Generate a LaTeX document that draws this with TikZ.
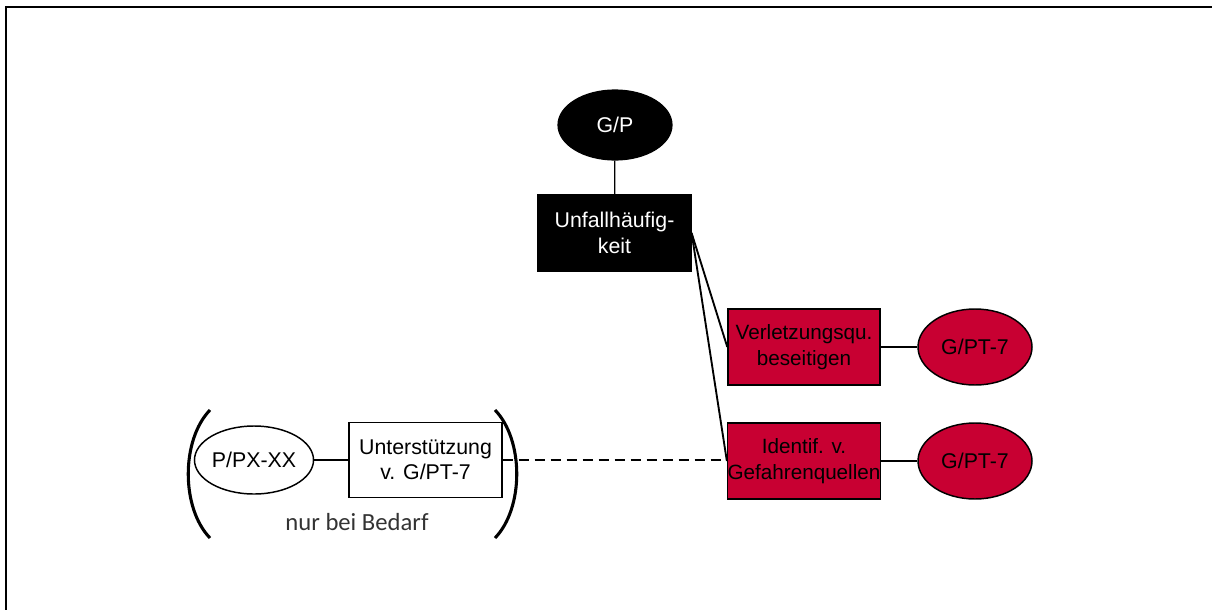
\documentclass[tikz,border=0pt]{standalone}
\usepackage{fontspec}
\setmainfont{Liberation Sans}
\newfontfamily\notefont{Carlito}
\usetikzlibrary{shapes.geometric}
\definecolor{zred}{RGB}{200,0,50}
\begin{document}
\begin{tikzpicture}[x=0.75pt,y=-0.75pt,
  every node/.style={font=\fontsize{16}{19}\selectfont, align=center, inner sep=0pt},
  blackell/.style={ellipse, draw=black, fill=black, text=white, line width=0.9pt,
    minimum width=85.5pt, minimum height=52.5pt},
  blackbox/.style={rectangle, draw=black, fill=black, text=white, line width=0.9pt,
    minimum width=114.75pt, minimum height=57pt},
  redbox/.style={rectangle, draw=black, fill=zred, text=black, line width=1.1pt,
    minimum width=114pt, minimum height=57pt, font=\fontsize{15.5}{19}\selectfont},
  redell/.style={ellipse, draw=black, fill=zred, text=black, line width=1.1pt,
    minimum width=85.5pt, minimum height=57pt},
  whitebox/.style={rectangle, draw=black, fill=white, line width=1.1pt,
    minimum width=114.75pt, minimum height=56.25pt},
  whiteell/.style={ellipse, draw=black, fill=white, line width=1.1pt,
    minimum width=87pt, minimum height=51pt},
  link/.style={draw=black, line width=0.9pt},
  slant/.style={draw=black, line width=1.4pt},
  optional/.style={draw=black, line width=1.6pt, dash pattern=on 7.5pt off 4.5pt},
  paren/.style={draw=black, line width=2.3pt}]

\useasboundingbox (0,0) rectangle (1212,610);

% frame (top and left edges)
\draw[line width=1.6pt] (1212,7) -- (6,7) -- (6,610);

% nodes
\node[blackell] (gp) at (615,125) {G/P};
\node[blackbox] (unf) at (614.5,233) {Unfallhäufig-\\keit};
\node[redbox] (ver) at (804,347) {Verletzungsqu.\\beseitigen};
\node[redbox] (ide) at (804,461) {Identif. v.\\Gefahrenquellen};
\node[redell] (pt1) at (975,347) {G/PT-7};
\node[redell] (pt2) at (975,461) {G/PT-7};
\node[whiteell] (px) at (254,460) {P/PX-XX};
\node[whitebox] (sup) at (425.5,460) {Unterstützung\\v. G/PT-7};
\node[font=\notefont\fontsize{18.5}{22}\selectfont, text=black!80] (note) at (357,522) {nur bei Bedarf};

% connectors
\draw[link] (gp) -- (unf);
\draw[slant] (unf.east) -- (ver.west);
\draw[slant] (unf.east) -- (ide.west);
\draw[link] (ver) -- (pt1);
\draw[link] (ide) -- (pt2);
\draw[link] (px) -- (sup);
\draw[optional] (sup.east) -- (sup.east -| ide.west);

% parentheses round the optional group
\draw[paren] (210,410) .. controls (181,440) and (181,508) .. (210,538);
\draw[paren] (495,410) .. controls (524,440) and (524,508) .. (495,538);
\end{tikzpicture}
\end{document}
